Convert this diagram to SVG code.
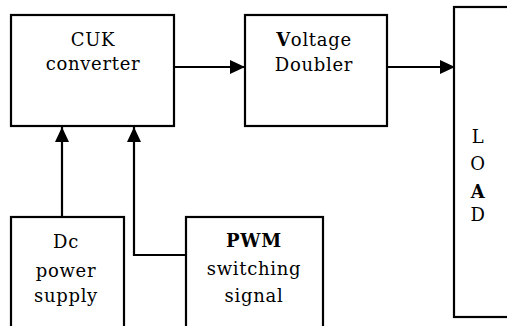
<svg xmlns="http://www.w3.org/2000/svg" width="507" height="326" viewBox="0 0 507 326">
<style>
.box{fill:#fff;stroke:#000;stroke-width:2.2}
.t{font-family:"DejaVu Serif","Liberation Serif",serif;font-size:18px;fill:#000;text-anchor:middle;letter-spacing:0.7px}
.b{font-weight:bold}
.c{fill:none;stroke:#000;stroke-width:2.2}
</style>
<defs>
<marker id="ah" markerUnits="userSpaceOnUse" markerWidth="16" markerHeight="14" refX="15" refY="7" orient="auto">
<path d="M0,0 L15,7 L0,14 Z" fill="#000"/>
</marker>
</defs>
<rect width="507" height="326" fill="#fff"/>
<g id="cuk">
<rect class="box" x="11" y="15" width="163" height="111"/>
<text class="t" x="93" y="46">CUK</text>
<text class="t" x="93" y="70">converter</text>
</g>
<g id="doubler">
<rect class="box" x="245" y="15" width="142" height="111"/>
<text class="t" x="314" y="46"><tspan class="b">V</tspan>oltage</text>
<text class="t" x="314" y="71">Doubler</text>
</g>
<g id="load">
<rect class="box" x="454" y="7" width="70" height="310"/>
<text class="t" x="478" y="143">L</text>
<text class="t" x="478" y="170">O</text>
<text class="t b" x="478" y="198">A</text>
<text class="t" x="478" y="221">D</text>
</g>
<g id="dc">
<rect class="box" x="11" y="217" width="113" height="130"/>
<text class="t" x="66" y="248">Dc</text>
<text class="t" x="66" y="277">power</text>
<text class="t" x="66" y="302">supply</text>
</g>
<g id="pwm">
<rect class="box" x="186" y="217" width="137" height="130"/>
<text class="t b" x="254" y="247">PWM</text>
<text class="t" x="254" y="275">switching</text>
<text class="t" x="254" y="302">signal</text>
</g>
<g id="connectors">
<path class="c" d="M174,67 H245" marker-end="url(#ah)"/>
<path class="c" d="M387,67 H455" marker-end="url(#ah)"/>
<path class="c" d="M62,217 V127" marker-end="url(#ah)"/>
<path class="c" d="M186,255 H134 V127" marker-end="url(#ah)"/>
</g>
</svg>
